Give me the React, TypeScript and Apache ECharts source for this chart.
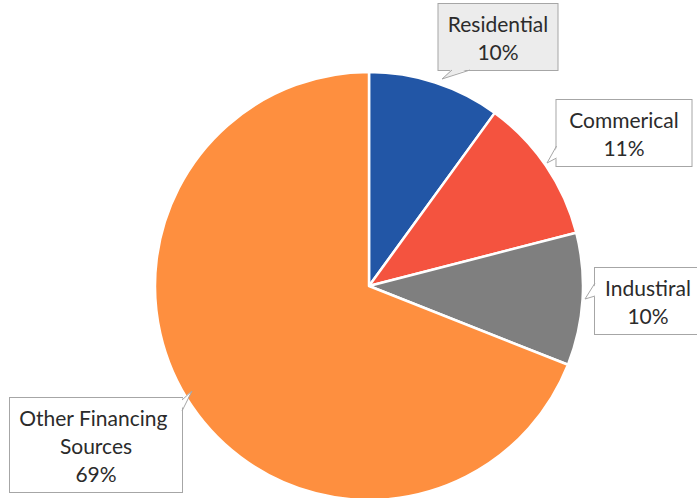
import React, { useEffect, useRef } from "react";
import * as echarts from "echarts";

const categories = ["Residential", "Commerical", "Industiral", "Other Financing Sources"];
const values = [10, 11, 10, 69];
const colors = ["#2256A6", "#F4533F", "#7F7F7F", "#FE8F3F"];

// callout box geometry (center x, center y, text width, lines, fill)
const boxes = [
  { cx: 498, cy: 37, w: 109, lines: 2, fill: "#ECECEC" },
  { cx: 624, cy: 133, w: 125, lines: 2, fill: "#FFFFFF" },
  { cx: 648, cy: 301, w: 96, lines: 2, fill: "#FFFFFF" },
  { cx: 96, cy: 445, w: 162, lines: 3, fill: "#FFFFFF" },
];
const LH = 28;
const PADX = 5;
const PADY = 5;
const BORDER = "#A6A6A6";

function boxRect(i: number) {
  const b = boxes[i];
  const W = b.w + 2 * PADX;
  const H = b.lines * LH + 2 * PADY;
  return { l: b.cx - W / 2, r: b.cx + W / 2, t: b.cy - H / 2, b: b.cy + H / 2 };
}

function pointer(base1: number[], base2: number[], tip: number[], fill: string, inward: number[]) {
  const b1 = [base1[0] + inward[0], base1[1] + inward[1]];
  const b2 = [base2[0] + inward[0], base2[1] + inward[1]];
  return [
    { type: "polygon", z: 100, shape: { points: [b1, tip, b2] }, style: { fill } },
    { type: "polyline", z: 101, shape: { points: [base1, tip, base2] }, style: { stroke: BORDER, lineWidth: 1, fill: null } },
  ];
}

export default function App() {
  const ref = useRef<HTMLDivElement>(null);
  useEffect(() => {
    if (!ref.current) return;
    const chart = echarts.init(ref.current, null, { renderer: "svg" });
    const r0 = boxRect(0), r1 = boxRect(1), r2 = boxRect(2), r3 = boxRect(3);
    const graphics: any[] = [
      ...pointer([452, r0.b], [470, r0.b], [442, 79], boxes[0].fill, [0, -1.5]),
      ...pointer([r1.l, 146], [r1.l, 158], [547, 163], boxes[1].fill, [1.5, 0]),
      ...pointer([r2.l, 283], [r2.l, 296], [585, 299], boxes[2].fill, [1.5, 0]),
      ...pointer([r3.r, 400], [r3.r, 411], [192, 391], boxes[3].fill, [-1.5, 0]),
    ];
    chart.setOption({
      animation: false,
      backgroundColor: "#ffffff",
      graphic: graphics,
      series: [
        {
          type: "pie",
          center: [369, 286],
          radius: 214,
          startAngle: 90,
          clockwise: true,
          silent: true,
          itemStyle: { borderColor: "#ffffff", borderWidth: 2.5 },
          labelLine: { show: false },
          label: {
            show: true,
            formatter: "{b}\n{d}%",
            fontFamily: "Lato, 'Open Sans', sans-serif",
            fontSize: 21,
            lineHeight: LH,
            color: "#2b2b2b",
            align: "center",
            borderColor: BORDER,
            borderWidth: 1,
            padding: [PADY, PADX],
            overflow: "break",
          },
          labelLayout: (p: any) => {
            const b = boxes[p.dataIndex];
            return { x: b.cx, y: b.cy, align: "center", verticalAlign: "middle" };
          },
          data: categories.map((name, i) => ({
            name,
            value: values[i],
            itemStyle: { color: colors[i] },
            label: { width: boxes[i].w, backgroundColor: boxes[i].fill },
          })),
        },
      ],
    });
    return () => chart.dispose();
  }, []);
  return (
    <div
      ref={ref}
      style={{ position: "fixed", left: 0, top: 0, width: 697, height: 498 }}
    />
  );
}
